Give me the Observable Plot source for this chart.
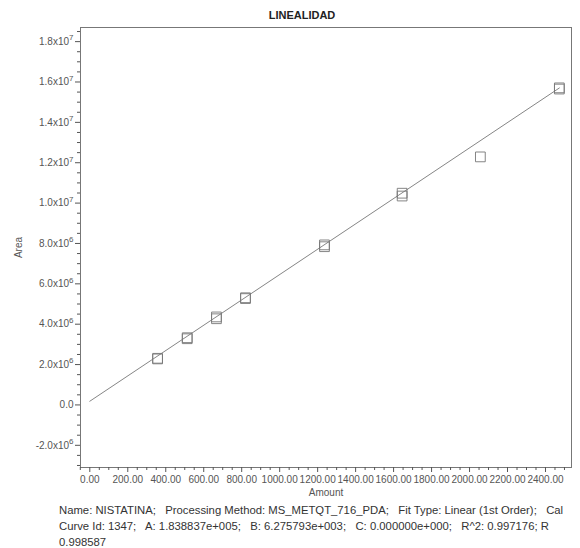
<!DOCTYPE html>
<html>
<head>
<meta charset="utf-8">
<script src="https://cdn.jsdelivr.net/npm/d3@7"></script>
<script src="https://cdn.jsdelivr.net/npm/@observablehq/plot@0.6"></script>
<style>
  html, body { margin: 0; padding: 0; background: #fff; }
  #page { position: relative; width: 580px; height: 548px; overflow: hidden;
          font-family: "Liberation Sans", Arial, sans-serif; }
  #title { position: absolute; top: 8px; left: 0; width: 604px; text-align: center;
           font-size: 11px; font-weight: bold; color: #222; line-height: 14px; }
  #chart { position: absolute; top: 20px; left: 0; }
  #caption { position: absolute; top: 502px; left: 59px; width: 521px;
             font-size: 11.3px; line-height: 16px; color: #333; white-space: pre; }
</style>
</head>
<body>
<div id="page">
  <div id="title"></div>
  <div id="chart"></div>
  <div id="caption"></div>
</div>
<script>
// Calibration standards (amount vs. peak area), duplicate injections per level
const amounts = [357, 357, 513, 513, 667, 667, 820, 820, 1236, 1236, 1645, 1645, 2057, 2473, 2473];
const areas = [2.31e6, 2.28e6, 3.33e6, 3.28e6, 4.36e6, 4.27e6, 5.31e6, 5.27e6, 7.93e6, 7.84e6, 1.049e7, 1.035e7, 1.229e7, 1.571e7, 1.565e7];

// Linear (1st order) fit coefficients: Area = A + B * Amount
const fitA = 1.838837e5;
const fitB = 6.275793e3;

// Axis ticks
const xMajor = [0, 200, 400, 600, 800, 1000, 1200, 1400, 1600, 1800, 2000, 2200, 2400];
const xMinor = d3.range(-50, 2550, 50).filter(v => v % 200 !== 0);
const yMajor = [-2e6, 0, 2e6, 4e6, 6e6, 8e6, 1e7, 1.2e7, 1.4e7, 1.6e7, 1.8e7];
const yMinor = d3.range(-3e6, 1.86e7, 5e5).filter(v => Math.round(v) % 2e6 !== 0);

const titleText = "LINEALIDAD";
const xLabel = "Amount";
const yLabel = "Area";
const captionLines = [
  "Name: NISTATINA;   Processing Method: MS_METQT_716_PDA;   Fit Type: Linear (1st Order);   Cal",
  "Curve Id: 1347;   A: 1.838837e+005;   B: 6.275793e+003;   C: 0.000000e+000;   R^2: 0.997176; R",
  "0.998587"
];

const points = amounts.map((a, i) => ({amount: a, area: areas[i]}));
const fitLine = [0, d3.max(amounts)].map(a => ({amount: a, area: fitA + fitB * a}));

// "1.8x10^7" style labels; the exponent is raised after rendering
function sciFormat(v) {
  if (v === 0) return "0.0";
  const e = Math.floor(Math.log10(Math.abs(v)));
  const m = v / Math.pow(10, e);
  return m.toFixed(1) + "x10^" + e;
}

const chart = Plot.plot({
  width: 580,
  height: 482,
  marginLeft: 80,
  marginRight: 9,
  marginTop: 7,
  marginBottom: 35,
  style: {fontFamily: '"Liberation Sans", Arial, sans-serif', fontSize: "10px", color: "#555", background: "#fff"},
  x: {domain: [-49, 2537]},
  y: {domain: [-3.1e6, 1.87e7]},
  marks: [
    Plot.frame({stroke: "#777"}),
    Plot.axisY({ticks: yMinor, tickSize: 3, tickFormat: () => "", label: null}),
    Plot.axisY({ticks: yMajor, tickSize: 5, tickPadding: 2, tickFormat: sciFormat,
                label: yLabel, labelAnchor: "center", labelArrow: "none", labelOffset: 66}),
    Plot.axisX({ticks: xMinor, tickSize: 3, tickFormat: () => "", label: null}),
    Plot.axisX({ticks: xMajor, tickSize: 5, tickPadding: 3, tickFormat: d3.format(".2f"),
                label: xLabel, labelAnchor: "center", labelArrow: "none", labelOffset: 28}),
    Plot.line(fitLine, {x: "amount", y: "area", stroke: "#666", strokeWidth: 0.8}),
    Plot.dot(points, {x: "amount", y: "area", symbol: "square", r: 5.5, stroke: "#777", strokeWidth: 0.9})
  ]
});

// Raise the power of ten in the y tick labels
d3.select(chart).selectAll("text").each(function() {
  const t = this.textContent;
  if (!/x10\^/.test(t)) return;
  const [base, exp] = t.split("^");
  const sel = d3.select(this);
  sel.text(null);
  sel.append("tspan").text(base);
  sel.append("tspan").attr("dy", "-0.55em").attr("font-size", "8px").text(exp);
});

document.getElementById("chart").appendChild(chart);
document.getElementById("title").textContent = titleText;
document.getElementById("caption").textContent = captionLines.join("\n");
</script>
</body>
</html>
